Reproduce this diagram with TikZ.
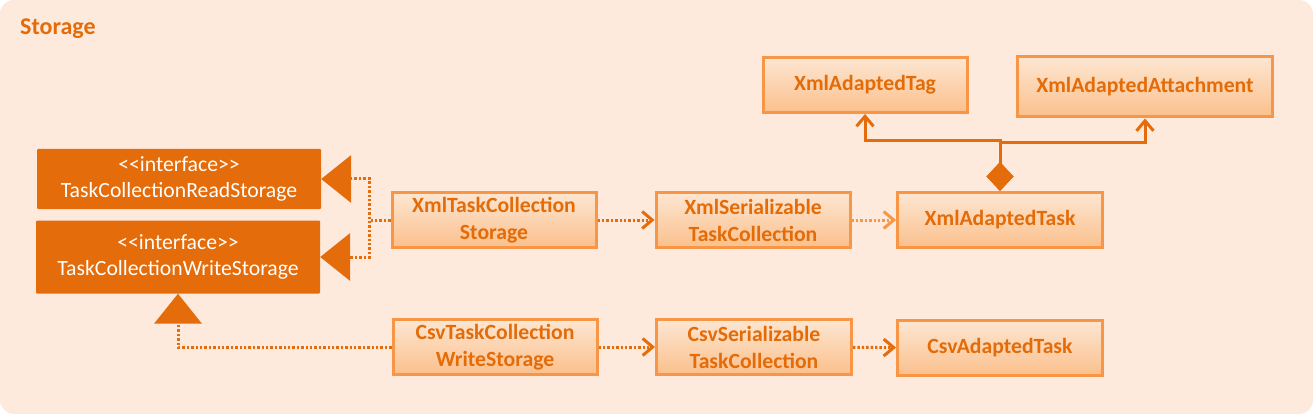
\documentclass[tikz,border=0pt]{standalone}
\usepackage{fontspec}
\setmainfont{Carlito}
\usetikzlibrary{arrows.meta}

\definecolor{bgpeach}{HTML}{FDEADC}
\definecolor{darkorange}{HTML}{E46C0A}
\definecolor{lineorange}{HTML}{F79646}
\definecolor{textorange}{HTML}{E36C09}
\definecolor{boxtop}{HTML}{FDE6D2}
\definecolor{boxbottom}{HTML}{FBC08C}

\newcommand{\stereo}[1]{<\kern0pt<#1>\kern0pt>}

\begin{document}
\begin{tikzpicture}[x=1pt, y=-1pt]

        \tikzset{
          classbox/.style={rectangle, draw=lineorange, line width=3pt, top color=boxtop,
            bottom color=boxbottom, text=textorange, align=center, inner sep=0pt,
            font=\bfseries\fontsize{21.7}{27}\selectfont, minimum height=55pt},
          ifacebox/.style={rectangle, fill=darkorange, text=white, align=center, inner sep=0pt,
            font=\fontsize{21.7}{26}\selectfont, rounded corners=1pt},
          depends/.style={draw=darkorange, line width=3pt, dash pattern=on 2.4pt off 2pt,
            -{Straight Barb[length=10pt, width=17pt]}},
          realizes/.style={draw=darkorange, line width=3pt, dash pattern=on 2.4pt off 2pt,
            -{Triangle[length=30pt, width=48pt, line width=0pt]}},
          owns/.style={draw=darkorange, line width=3pt,
            {Diamond[length=29pt, width=27pt, line width=0pt]}-{Straight Barb[length=10pt, width=17pt]}}
        }

        % package frame
        \fill[bgpeach, rounded corners=14pt] (0, 0) rectangle (1313, 414);
        \node[anchor=base west, inner sep=0pt, text=textorange,
          font=\bfseries\fontsize{24}{28}\selectfont] (title) at (20, 35) {Storage};

        % interfaces on the left
        \node[ifacebox, minimum width=284pt, minimum height=60pt] at (179, 179) (readif)
          {\stereo{interface}\\TaskCollectionReadStorage};
        \node[ifacebox, minimum width=284pt, minimum height=73pt] at (178, 257) (writeif)
          {\stereo{interface}\\TaskCollectionWriteStorage};

        % storage classes
        \node[classbox, minimum width=204pt] at (494, 220) (xmlstore) {XmlTaskCollection\\Storage};
        \node[classbox, minimum width=204pt] at (495, 347) (csvstore) {CsvTaskCollection\\WriteStorage};

        % serializable collections
        \node[classbox, minimum width=194pt] at (753, 220) (xmlser) {XmlSerializable\\TaskCollection};
        \node[classbox, minimum width=195pt] at (754, 347) (csvser) {CsvSerializable\\TaskCollection};

        % adapted tasks
        \node[classbox, minimum width=205pt] at (1000, 220) (xmltask) {XmlAdaptedTask};
        \node[classbox, minimum width=205pt] at (1000, 348) (csvtask) {CsvAdaptedTask};

        % parts of the xml task
        \node[classbox, minimum width=204pt] at (865, 85) (xmltag) {XmlAdaptedTag};
        \node[classbox, minimum width=255pt, minimum height=60pt] at (1145, 87) (xmlattach)
          {XmlAdaptedAttachment};

        % realizations
        \draw[realizes] (xmlstore.west) -- ++(-21, 0) |- (readif.east);
        \draw[realizes] (xmlstore.west) -- ++(-21, 0) |- (writeif.east);
        \draw[realizes] (csvstore.west) -| (writeif.south);

        % dependencies
        \draw[depends] (xmlstore) -- (xmlser);
        \draw[depends, draw=lineorange] (xmlser) -- (xmltask);
        \draw[depends] (csvstore) -- (csvser);
        \draw[depends] (csvser) -- (csvtask);

        % composition
        \draw[owns] (xmltask.north) -- ++(0, -50) -| (xmltag.south);
        \draw[owns] (xmltask.north) -- ++(0, -48) -| (xmlattach.south);

\end{tikzpicture}
\end{document}
